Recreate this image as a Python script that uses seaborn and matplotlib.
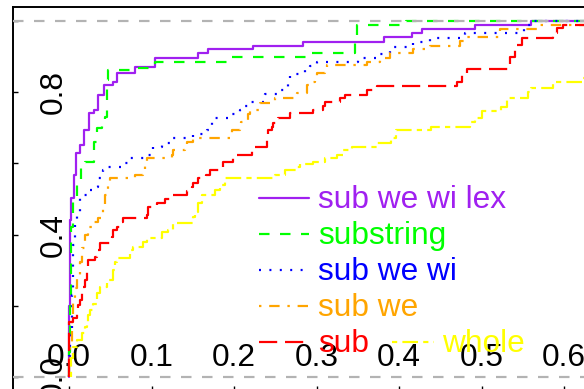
import numpy as np
import pandas as pd
import matplotlib
matplotlib.use("Agg")
import matplotlib.pyplot as plt
from matplotlib.lines import Line2D
import seaborn as sns

# ---------------- data (ECDF step positions and cumulative proportions) ----------------
labels = ["sub we wi lex", "substring", "sub we wi", "sub we", "sub", "whole"]
colors = ["#a020f0", "#00ff00", "#0000ff", "#ffa500", "#ff0000", "#ffff00"]

purple_x = [0.0, 0.0005, 0.001, 0.0015, 0.0024, 0.006, 0.0085, 0.013, 0.018, 0.024, 0.030, 0.035,
            0.042, 0.053, 0.058, 0.080, 0.104, 0.156, 0.168, 0.223, 0.284, 0.382, 0.416, 0.428,
            0.492, 0.56]
purple_y = [0.08, 0.2, 0.33, 0.44, 0.503, 0.567, 0.629, 0.652, 0.694, 0.742, 0.75, 0.792,
            0.820, 0.829, 0.854, 0.871, 0.896, 0.910, 0.921, 0.930, 0.941, 0.955, 0.966, 0.978,
            0.989, 1.0]

green_x = [0.0, 0.001, 0.002, 0.003, 0.005, 0.0097, 0.0145, 0.019, 0.030, 0.034, 0.040, 0.044,
           0.046, 0.047, 0.080, 0.098, 0.104, 0.195, 0.292, 0.347, 0.349, 0.408]
green_y = [0.07, 0.2, 0.32, 0.42, 0.503, 0.539, 0.587, 0.604, 0.66, 0.699, 0.716, 0.730,
           0.834, 0.862, 0.868, 0.876, 0.885, 0.899, 0.910, 0.938, 0.989, 1.0]

blue_x = [0.0, 0.001, 0.004, 0.005, 0.007, 0.0097, 0.013, 0.025, 0.032, 0.035, 0.040, 0.041,
          0.044, 0.065, 0.072, 0.096, 0.101, 0.102, 0.113, 0.126, 0.150, 0.167, 0.170, 0.173,
          0.175, 0.196, 0.207, 0.208, 0.221, 0.238, 0.256, 0.265, 0.268, 0.286, 0.292, 0.301,
          0.350, 0.377, 0.389, 0.417, 0.438, 0.480, 0.552, 0.553, 0.560]
blue_y = [0.06, 0.126, 0.23, 0.371, 0.427, 0.463, 0.511, 0.525, 0.534, 0.559, 0.567, 0.581,
          0.590, 0.601, 0.615, 0.624, 0.638, 0.646, 0.657, 0.671, 0.683, 0.694, 0.702, 0.716,
          0.728, 0.739, 0.750, 0.761, 0.772, 0.795, 0.806, 0.829, 0.851, 0.862, 0.874, 0.885,
          0.896, 0.907, 0.927, 0.941, 0.952, 0.966, 0.978, 0.989, 1.0]

orange_x = [0.0, 0.001, 0.004, 0.005, 0.007, 0.0097, 0.013, 0.016, 0.019, 0.023, 0.028, 0.035,
            0.041, 0.044, 0.046, 0.047, 0.050, 0.080, 0.090, 0.092, 0.0945, 0.125, 0.126, 0.141,
            0.143, 0.150, 0.196, 0.198, 0.207, 0.208, 0.217, 0.219, 0.232, 0.250, 0.276, 0.288,
            0.289, 0.296, 0.298, 0.301, 0.310, 0.313, 0.361, 0.377, 0.389, 0.417, 0.438, 0.474,
            0.480, 0.521, 0.522, 0.567, 0.65]
orange_y = [0.04, 0.09, 0.166, 0.211, 0.25, 0.287, 0.323, 0.362, 0.399, 0.421, 0.435, 0.447,
            0.483, 0.511, 0.525, 0.545, 0.559, 0.567, 0.581, 0.604, 0.615, 0.624, 0.638, 0.649,
            0.660, 0.671, 0.680, 0.694, 0.705, 0.716, 0.739, 0.750, 0.770, 0.784, 0.798, 0.806,
            0.820, 0.829, 0.843, 0.854, 0.862, 0.876, 0.885, 0.896, 0.910, 0.921, 0.930, 0.944,
            0.955, 0.966, 0.978, 0.989, 1.0]

red_x = [0.0, 0.005, 0.0097, 0.011, 0.013, 0.016, 0.017, 0.019, 0.022, 0.023, 0.032, 0.034,
         0.038, 0.052, 0.053, 0.058, 0.062, 0.065, 0.095, 0.096, 0.107, 0.116, 0.125, 0.143,
         0.149, 0.150, 0.156, 0.166, 0.171, 0.187, 0.199, 0.201, 0.222, 0.240, 0.241, 0.246,
         0.247, 0.253, 0.268, 0.296, 0.308, 0.310, 0.328, 0.335, 0.361, 0.373, 0.470, 0.476,
         0.482, 0.535, 0.541, 0.549, 0.587, 0.592, 0.599, 0.70]
red_y = [0.154, 0.166, 0.18, 0.202, 0.216, 0.244, 0.253, 0.272, 0.295, 0.329, 0.337, 0.357,
         0.376, 0.393, 0.413, 0.421, 0.435, 0.447, 0.455, 0.478, 0.489, 0.5, 0.511, 0.522,
         0.534, 0.545, 0.559, 0.567, 0.581, 0.604, 0.615, 0.624, 0.646, 0.680, 0.694, 0.702,
         0.713, 0.728, 0.742, 0.75, 0.761, 0.772, 0.784, 0.792, 0.806, 0.817, 0.829, 0.848,
         0.865, 0.899, 0.933, 0.952, 0.966, 0.980, 0.989, 1.0]

yellow_x = [0.002, 0.005, 0.0097, 0.016, 0.019, 0.022, 0.023, 0.025, 0.029, 0.034, 0.038, 0.046,
            0.053, 0.056, 0.058, 0.074, 0.078, 0.090, 0.095, 0.113, 0.120, 0.126, 0.150, 0.153,
            0.156, 0.161, 0.177, 0.183, 0.189, 0.250, 0.262, 0.276, 0.280, 0.296, 0.310, 0.325,
            0.332, 0.343, 0.373, 0.390, 0.396, 0.439, 0.486, 0.492, 0.501, 0.524, 0.531, 0.556,
            0.560, 0.587, 0.622, 0.66, 0.75]
yellow_y = [0.053, 0.084, 0.104, 0.124, 0.140, 0.154, 0.174, 0.188, 0.205, 0.236, 0.253, 0.272,
            0.301, 0.323, 0.334, 0.357, 0.365, 0.379, 0.390, 0.407, 0.413, 0.433, 0.449, 0.463,
            0.489, 0.511, 0.525, 0.539, 0.559, 0.567, 0.581, 0.590, 0.598, 0.604, 0.615, 0.624,
            0.638, 0.646, 0.657, 0.671, 0.694, 0.702, 0.716, 0.728, 0.747, 0.758, 0.784, 0.801,
            0.812, 0.829, 0.840, 0.9, 1.0]

series_x = [purple_x, green_x, blue_x, orange_x, red_x, yellow_x]
series_y = [purple_y, green_y, blue_y, orange_y, red_y, yellow_y]

x_ticks = [0.0, 0.1, 0.2, 0.3, 0.4, 0.5, 0.6]
x_ticklabels = ["0.0", "0.1", "0.2", "0.3", "0.4", "0.5", "0.6"]
y_ticks = [0.0, 0.2, 0.4, 0.6, 0.8, 1.0]
y_ticklabels = ["0.0", "", "0.4", "", "0.8", ""]
x_right_end = 1.0  # ECDF continues at 1 to the right

# ---------------- style ----------------
sns.set_theme(style="white")
plt.rcParams["font.family"] = ["Liberation Sans", "DejaVu Sans"]
plt.rcParams["lines.scale_dashes"] = False

PX = 0.72  # points per pixel at dpi 100
lw = 2.2 * PX
FS = 22.8
dash_styles = [
    "-",
    (0, (10.5 * PX, 10.5 * PX)),
    (0, (2.0 * PX, 8.4 * PX)),
    (0, (2.4 * PX, 7.8 * PX, 10.4 * PX, 7.8 * PX)),
    (0, (18.2 * PX, 7.8 * PX)),
    (0, (5.2 * PX, 5.2 * PX, 15.6 * PX, 5.2 * PX)),
]

W, H = 584, 389
fig = plt.figure(figsize=(W / 100, H / 100), dpi=100)
ax_left, ax_right, ax_top, ax_bottom = 13, 620, 7, 391
ax = fig.add_axes([ax_left / W, (H - ax_bottom) / H, (ax_right - ax_left) / W, (ax_bottom - ax_top) / H])

for xs, ys, col, ls in zip(series_x, series_y, colors, dash_styles):
    vals = np.r_[np.asarray(xs, float), x_right_end]
    w = np.diff(np.r_[0.0, np.asarray(ys, float)])
    w = np.r_[w, 0.0]
    df = pd.DataFrame({"value": vals, "weight": w})
    sns.ecdfplot(data=df, x="value", weights="weight", color=col, linestyle=ls,
                 linewidth=lw, ax=ax)

for yh in (0.0, 1.0):
    ax.axhline(yh, color="#b3b3b3", linestyle=(0, (10.5 * PX, 10.5 * PX)), linewidth=lw, zorder=3)

# axis limits from pixel geometry: x=0 at px 69, 825 px per unit; y=0 at px 377, 356 px per unit
ax.set_xlim((ax_left - 69) / 825, (ax_right - 69) / 825)
ax.set_ylim((377 - ax_bottom) / 356, (377 - ax_top) / 356)
ax.set_xlabel("")
ax.set_ylabel("")

for s in ax.spines.values():
    s.set_linewidth(1.4)
    s.set_color("black")

ax.set_xticks(x_ticks)
ax.set_xticklabels(x_ticklabels)
ax.set_yticks(y_ticks)
ax.set_yticklabels(y_ticklabels)
ax.tick_params(axis="x", direction="in", length=3.6, width=1, pad=-34.2, labelsize=FS,
               colors="black", bottom=True)
ax.tick_params(axis="y", direction="in", length=3.6, width=1, pad=-40.0, labelsize=FS,
               labelrotation=90, colors="black", left=True)
for t in ax.get_yticklabels():
    t.set_va("center")
    t.set_ha("right")

# ---------------- legend (manual layout as in reference) ----------------
def fx(px):
    return px / W

def fy(py):
    return (H - py) / H

rows_y = [198, 234, 270, 306, 342, 342]
line_x0 = [259, 259, 259, 259, 259, 392]
line_x1 = [309, 309, 309, 309, 309, 434]
text_x = [318, 318, 318, 318, 318, 442]
for lab, col, ls, ry, x0, x1, tx in zip(labels, colors, dash_styles, rows_y, line_x0, line_x1, text_x):
    fig.add_artist(Line2D([fx(x0), fx(x1)], [fy(ry), fy(ry)], transform=fig.transFigure,
                          color=col, linestyle=ls, linewidth=lw))
    fig.text(fx(tx), fy(ry + 10), lab, color=col, fontsize=FS, va="baseline", ha="left")

fig.savefig("out.png", dpi=100)
